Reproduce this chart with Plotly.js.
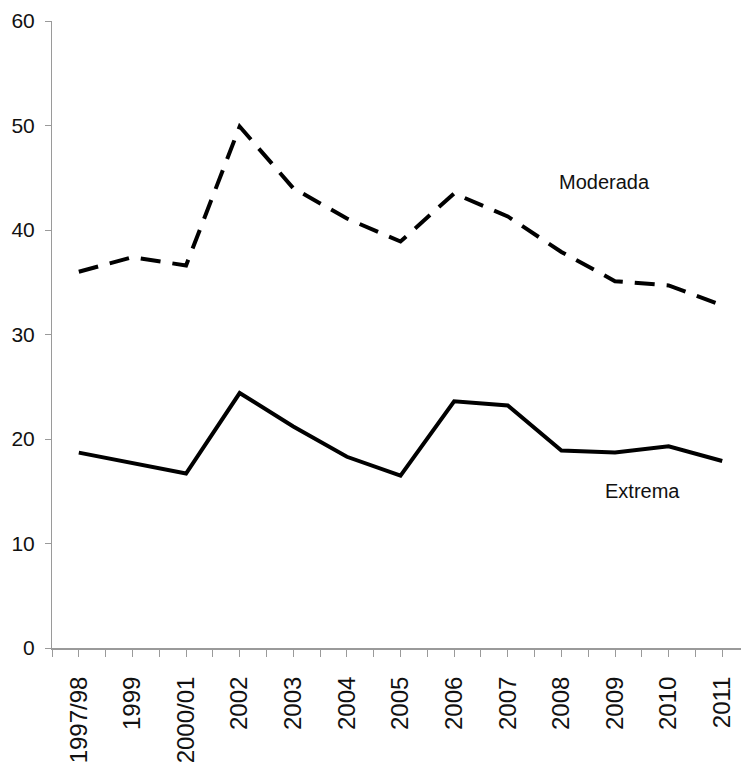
<!DOCTYPE html>
<html>
<head>
<meta charset="utf-8">
<script src="https://cdn.plot.ly/plotly-3.0.1.min.js"></script>
<style>
  html, body { margin: 0; padding: 0; background: #fff; }
  #chart { width: 741px; height: 773px; }
</style>
</head>
<body>
<div id="chart"></div>
<script>
// categories on the x axis
const years = ['1997/98', '1999', '2000/01', '2002', '2003', '2004', '2005',
               '2006', '2007', '2008', '2009', '2010', '2011'];

// series
const moderada = [36.0, 37.4, 36.6, 49.9, 44.0, 41.1, 38.9, 43.5, 41.3, 37.9, 35.1, 34.7, 32.8];
const extrema  = [18.7, 17.7, 16.7, 24.4, 21.2, 18.3, 16.5, 23.6, 23.2, 18.9, 18.7, 19.3, 17.9];

const yTicks = [0, 10, 20, 30, 40, 50, 60];

const idx = years.map((y, i) => i);
const bounds = years.map((y, i) => i - 0.5);

const axisGray = '#9a9a9a';
const sans = 'Liberation Sans, Arial, sans-serif';

const traces = [
  {
    type: 'scatter',
    mode: 'lines',
    x: idx,
    y: moderada,
    name: 'Moderada',
    line: { color: '#000', width: 4, dash: '20px,12px' },
    hoverinfo: 'y'
  },
  {
    type: 'scatter',
    mode: 'lines',
    x: idx,
    y: extrema,
    name: 'Extrema',
    line: { color: '#000', width: 4 },
    hoverinfo: 'y'
  }
];

const layout = {
  width: 741,
  height: 773,
  margin: { l: 52, r: 0, t: 21, b: 125 },
  paper_bgcolor: '#fff',
  plot_bgcolor: '#fff',
  showlegend: false,
  xaxis: {
    range: [-0.5, 12.35],
    tickmode: 'array',
    tickvals: idx,
    ticktext: years,
    tickangle: -90,
    ticks: 'outside',
    ticklen: 7,
    tickcolor: axisGray,
    tickwidth: 1,
    minor: { tickmode: 'array', tickvals: bounds, ticks: 'outside', ticklen: 7, tickcolor: axisGray, tickwidth: 1 },
    showline: true,
    linecolor: axisGray,
    linewidth: 2,
    showgrid: false,
    zeroline: false,
    ticklabelstandoff: 10,
    tickfont: { family: sans, size: 24, color: '#111' },
    fixedrange: true
  },
  yaxis: {
    range: [0, 60],
    tickmode: 'array',
    tickvals: yTicks,
    ticks: 'outside',
    ticklen: 6,
    tickcolor: axisGray,
    tickwidth: 1,
    showline: true,
    linecolor: axisGray,
    linewidth: 1,
    showgrid: false,
    zeroline: false,
    ticklabelstandoff: 6,
    tickfont: { family: sans, size: 21, color: '#111' },
    fixedrange: true
  },
  annotations: [
    { x: 9.81, y: 44.6, xref: 'x', yref: 'y', text: 'Moderada', showarrow: false,
      font: { family: sans, size: 20, color: '#111' } },
    { x: 10.52, y: 15.0, xref: 'x', yref: 'y', text: 'Extrema', showarrow: false,
      font: { family: sans, size: 20, color: '#111' } }
  ]
};

Plotly.newPlot('chart', traces, layout, { displayModeBar: false, staticPlot: true });
</script>
</body>
</html>
